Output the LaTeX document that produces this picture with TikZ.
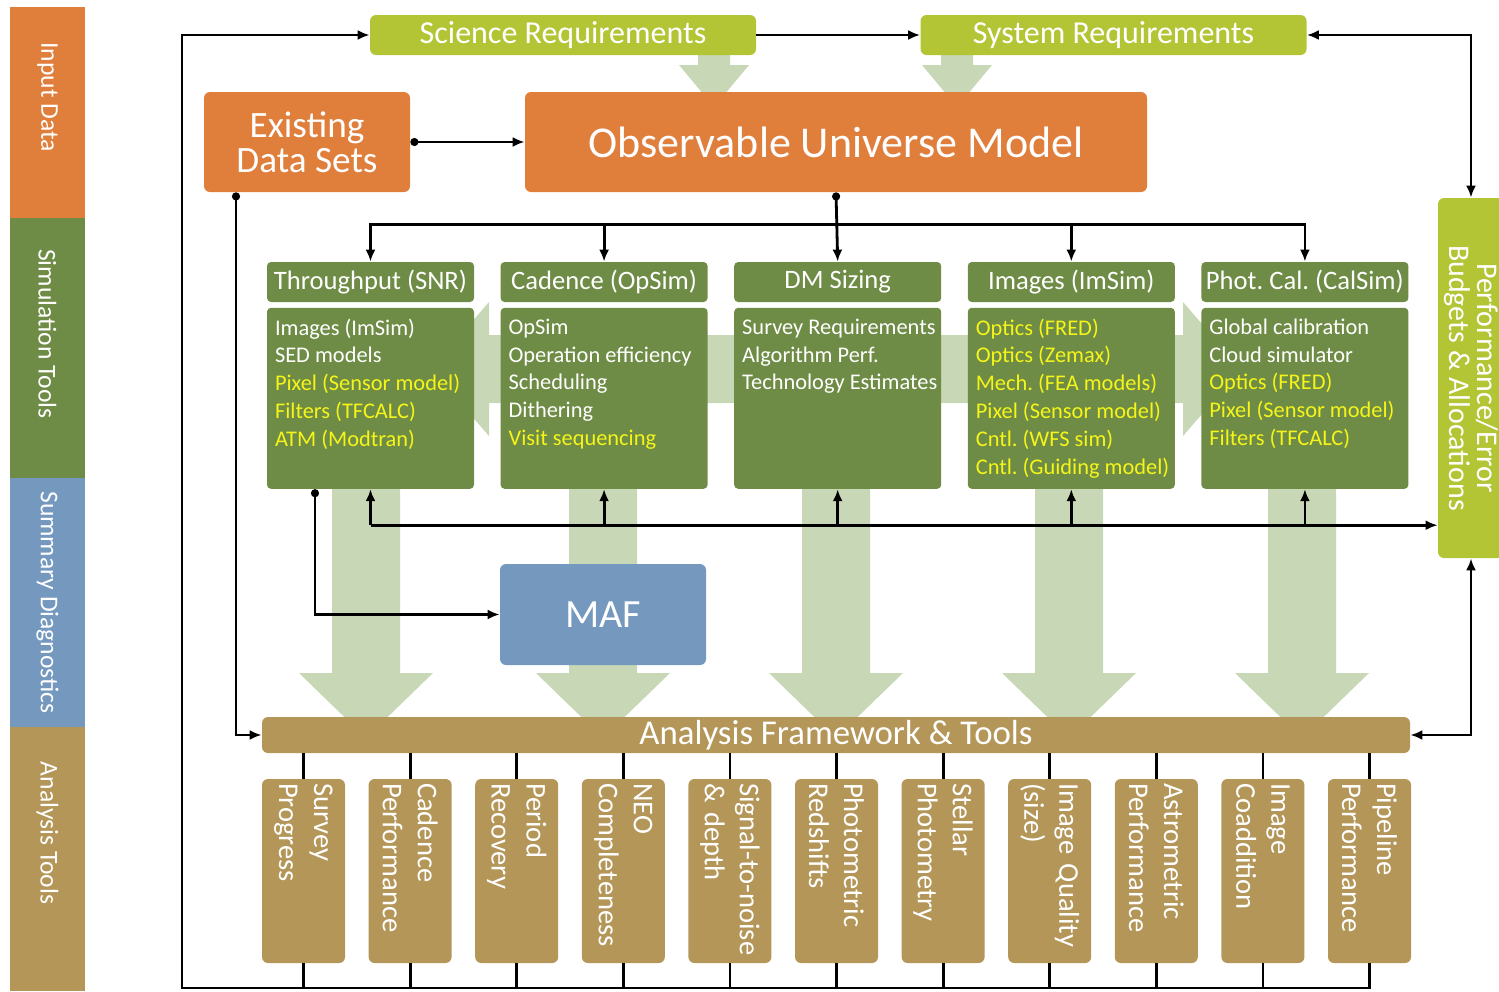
\documentclass[tikz,border=0pt]{standalone}
\usepackage{fontspec}
\setmainfont{Carlito}
\frenchspacing
\usetikzlibrary{positioning,arrows.meta}
\definecolor{inorange}{HTML}{E07E3C}
\definecolor{simgreen}{HTML}{6E8C45}
\definecolor{reqgreen}{HTML}{B3C535}
\definecolor{mafblue}{HTML}{7498BE}
\definecolor{anatan}{HTML}{B39658}
\definecolor{palegreen}{HTML}{C8D7B5}
\definecolor{hiyellow}{HTML}{F5F51A}
\newcommand{\yel}[1]{\textcolor{hiyellow}{#1}}
\tikzset{node distance=12.9pt,
  sidebar/.style={rotate=-90, minimum height=37.5pt, inner sep=0pt, outer sep=0pt, text=white, font=\fontsize{12.8}{14}\selectfont},
  reqbox/.style={fill=reqgreen, rounded corners=3pt, minimum width=193pt, minimum height=20pt, inner sep=0pt, text=white, font=\fontsize{16}{18}\selectfont},
  inbox/.style={fill=inorange, rounded corners=3pt, minimum height=50pt, inner sep=0pt, align=center, text=white},
  simhead/.style={fill=simgreen, rounded corners=2pt, minimum width=103.5pt, minimum height=20pt, inner sep=0pt, text=white, font=\fontsize{13.3}{15}\selectfont},
  simbody/.style={fill=simgreen, rounded corners=2pt, minimum width=103.5pt, minimum height=90.5pt, inner sep=0pt},
  simlist/.style={anchor=north west, align=left, inner xsep=4pt, inner ysep=5.5pt, text=white, font=\fontsize{11.2}{13.9}\selectfont},
  mafbox/.style={fill=mafblue, rounded corners=3pt, minimum width=103pt, minimum height=50.5pt, text=white, font=\fontsize{20}{24}\selectfont},
  afwbar/.style={fill=anatan, rounded corners=3pt, minimum width=574pt, minimum height=18pt, inner sep=0pt, text=white, font=\fontsize{17.4}{20}\selectfont},
  anabox/.style={fill=anatan, rounded corners=3pt, rotate=-90, minimum width=92pt, minimum height=41.5pt, text width=88pt, inner xsep=2pt, inner ysep=0pt, align=left, text=white, font=\fontsize{14.3}{17.5}\selectfont},
  perfbox/.style={fill=reqgreen, rounded corners=3pt, rotate=-90, minimum width=180pt, minimum height=33pt, inner sep=0pt, align=center, text=white, font=\fontsize{15}{14}\selectfont},
  pale/.style={fill=palegreen},
  link/.style={line width=1.4pt},
  conn/.style={link, arrows={-Latex[length=6pt,width=5pt]}},
  dotconn/.style={link, arrows={Circle[length=4pt]-Latex[length=6pt,width=5pt]}},
  twoway/.style={link, arrows={Latex[length=6pt,width=5pt]-Latex[length=6pt,width=5pt]}}}
\begin{document}
\begin{tikzpicture}[x=0.5pt, y=-0.5pt]
\useasboundingbox (0,0) rectangle (1499,991);

% stages down the left side
\node[sidebar, fill=inorange, minimum width=105.5pt] (s1) at (47.5,112.5) {Input Data\hspace*{15.5pt}};
\node[sidebar, fill=simgreen, minimum width=130pt] (s2) at (47.5,348) {Simulation Tools\hspace*{14pt}};
\node[sidebar, fill=mafblue, minimum width=124.5pt] (s3) at (47.5,602.5) {Summary Diagnostics};
\node[sidebar, fill=anatan, minimum width=132pt] (s4) at (47.5,859) {Analysis Tools\hspace*{26pt}};

% pale flow arrows behind the boxes
\foreach \x in {714,957}
  \fill[pale] (\x-16,55) -- (\x+16,55) -- (\x+16,65) -- (\x+35,65) -- (\x,107) -- (\x-35,65) -- (\x-16,65) -- cycle;
\fill[pale] (431,369) -- (489,302) -- (489,335) -- (1183,335) -- (1183,302) -- (1241,369)
  -- (1183,436) -- (1183,403) -- (489,403) -- (489,436) -- cycle;
\foreach \x in {366,603,836,1069,1302}
  \fill[pale] (\x-34,480) -- (\x+34,480) -- (\x+34,673) -- (\x+67,673) -- (\x,738) -- (\x-67,673) -- (\x-34,673) -- cycle;

\node[reqbox] (sci) at (563,35) {Science Requirements};
\node[reqbox] (sys) at (1113.5,35) {System Requirements};
\node[inbox, minimum width=103pt, font=\fontsize{18.6}{17.5}\selectfont] (eds) at (307,142) {Existing\\Data Sets};
\node[inbox, minimum width=311pt, font=\fontsize{22}{25}\selectfont] (oum) at (836,142) {Observable Universe Model};

\node[simhead] (h1) at (370.5,282) {Throughput (SNR)};
\node[simhead, right=of h1] (h2) {Cadence (OpSim)};
\node[simhead, right=of h2] (h3) {DM Sizing};
\node[simhead, right=of h3] (h4) {Images (ImSim)};
\node[simhead, right=of h4] (h5) {Phot. Cal. (CalSim)};
\node[simbody, below=2.5pt of h1] (b1) {};
\node[simbody, below=2.5pt of h2] (b2) {};
\node[simbody, below=2.5pt of h3] (b3) {};
\node[simbody, below=2.5pt of h4] (b4) {};
\node[simbody, below=2.5pt of h5] (b5) {};
\node[simlist] (l1) at (b1.north west) {Images (ImSim)\\SED models\\\yel{Pixel (Sensor model)}\\\yel{Filters (TFCALC)}\\\yel{ATM (Modtran)}};
\node[simlist] (l2) at (b2.north west) {OpSim\\Operation efficiency\\Scheduling\\Dithering\\\yel{Visit sequencing}};
\node[simlist] (l3) at (b3.north west) {Survey Requirements\\Algorithm Perf.\\Technology Estimates};
\node[simlist] (l4) at (b4.north west) {\yel{Optics (FRED)}\\\yel{Optics (Zemax)}\\\yel{Mech. (FEA models)}\\\yel{Pixel (Sensor model)}\\\yel{Cntl. (WFS sim)}\\\yel{Cntl. (Guiding model)}};
\node[simlist] (l5) at (b5.north west) {Global calibration\\Cloud simulator\\\yel{Optics (FRED)}\\\yel{Pixel (Sensor model)}\\\yel{Filters (TFCALC)}};

\node[mafbox] (maf) at (603,614.5) {MAF};
\node[afwbar] (afw) at (836,735) {Analysis Framework \& Tools};
\node[perfbox] (perf) at (1471,378) {Performance/Error\\Budgets \& Allocations};

\foreach \i/\txt in {1/{Survey\\Progress}, 2/{Cadence\\Performance}, 3/{Period\\Recovery},
    4/{NEO\\Completeness}, 5/{\mbox{Signal-to-noise}\\\& depth}, 6/{Photometric\\Redshifts},
    7/{Stellar\\Photometry}, 8/{\mbox{Image Quality}\\(size)}, 9/{Astrometric\\Performance},
    10/{Image\\Coaddition}, 11/{Pipeline\\Performance}}
  \node[anabox] (a\i) at ({303.5+106.6*(\i-1)},871) {\txt};

% connectors
\coordinate (loop) at (182,988);
\coordinate (split) at ([yshift=18.5pt]h3.north);
\coordinate (fb) at ([yshift=-18pt]b1.south);

\draw[conn] (sci) -- (sys);
\draw[twoway] (sys.east) -| (perf.west);
\draw[dotconn] (eds.east) -- (oum.west);
\draw[dotconn] (oum.south) -- (h3.north);
\foreach \i in {1,2,4,5}
  \draw[conn] (split) -| (h\i.north);
\draw[conn] (fb) -- (fb -| perf.south);
\foreach \i in {1,...,5}
  \draw[conn] (fb -| b\i.south) -- (b\i.south);
\draw[dotconn] ([xshift=-27.75pt]b1.south) |- (maf.west);
\draw[dotconn] ([xshift=-35.5pt]eds.south) |- (afw.west);
\draw[twoway] (perf.east) |- (afw.east);
\foreach \i in {1,...,11}
  \draw[link] (a\i.west |- afw.south) -- (a\i.west);
\foreach \i in {2,...,10}
  \draw[link] (a\i.east) -- (a\i.east |- loop);
\draw[link] (a11.east) |- (loop);
\draw[conn] (a1.east) |- (loop) |- (sci.west);
\end{tikzpicture}
\end{document}
